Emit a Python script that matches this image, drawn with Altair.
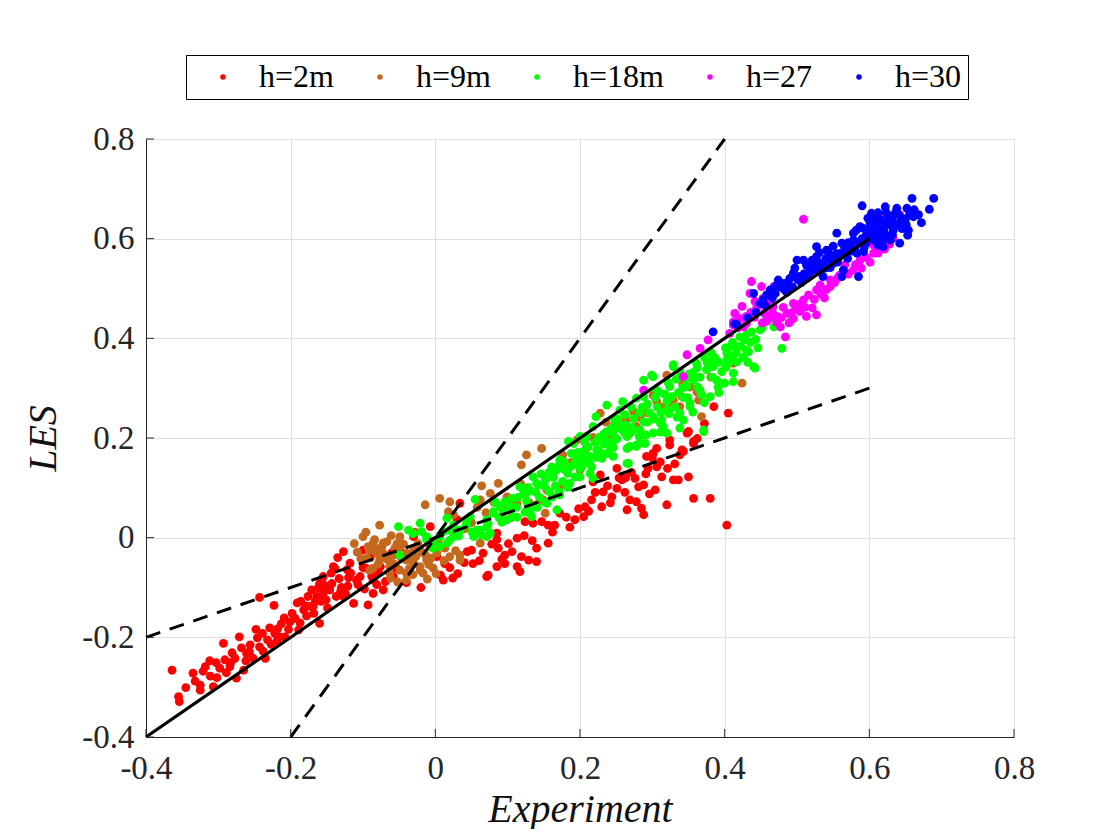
import altair as alt
import pandas as pd

series_names = ["h=2m", "h=9m", "h=18m", "h=27", "h=30"]
series_colors = ["#FF0000", "#C4681E", "#00FF00", "#FF00FF", "#0000FF"]
tick_values = [-0.4, -0.2, 0, 0.2, 0.4, 0.6, 0.8]

h2m = [(-0.364,-0.266),(-0.355,-0.319),(-0.354,-0.329),(-0.335,-0.272),(-0.325,-0.296),(-0.325,-0.306),
       (-0.318,-0.259),(-0.312,-0.247),(-0.311,-0.278),(-0.307,-0.299),(-0.298,-0.262),(-0.293,-0.212),
       (-0.291,-0.245),(-0.284,-0.259),(-0.277,-0.242),(-0.275,-0.282),(-0.271,-0.199),(-0.265,-0.266),
       (-0.261,-0.232),(-0.256,-0.215),(-0.252,-0.242),(-0.248,-0.184),(-0.243,-0.219),(-0.243,-0.120),
       (-0.235,-0.242),(-0.232,-0.205),(-0.223,-0.136),(-0.222,-0.192),(-0.215,-0.199),(-0.208,-0.199),
       (-0.201,-0.169),(-0.194,-0.162),(-0.189,-0.185),(-0.182,-0.145),(-0.176,-0.118),(-0.171,-0.105),
       (-0.169,-0.138),(-0.160,-0.172),(-0.157,-0.085),(-0.155,-0.112),(-0.151,-0.125),(-0.143,-0.092),
       (-0.139,-0.061),(-0.127,-0.028),(-0.141,-0.058),(-0.155,-0.078),(-0.118,-0.051),(-0.100,-0.025),
       (-0.109,-0.085),(-0.146,-0.105),(-0.127,-0.118),(-0.164,-0.118),(-0.113,-0.132),(-0.093,-0.135),
       (-0.086,-0.085),(-0.076,-0.058),(-0.065,-0.041),(-0.072,-0.105),(-0.058,-0.078),(-0.086,-0.112),
       (-0.173,-0.138),(-0.160,-0.092),(-0.049,-0.018),(-0.030,0.002),(0.002,-0.038),(0.011,-0.085),
       (0.007,-0.075),(0.030,0.036),(0.050,-0.025),(0.066,-0.031),(0.071,-0.078),(0.085,-0.058),
       (0.085,-0.004),(0.034,0.069),(-0.007,0.022),(-0.040,-0.090),(-0.020,-0.100),(0.020,-0.060),
       (0.040,-0.050),(-0.060,-0.030),(-0.100,-0.060),(-0.120,-0.080),(-0.130,-0.100),(-0.135,-0.040),
       (-0.090,-0.040),(0.087,-0.021),(0.096,-0.035),(0.106,-0.028),(0.113,-0.001),(0.119,-0.038),
       (0.129,-0.045),(0.140,-0.048),(0.140,-0.021),(0.156,-0.011),(0.113,-0.058),(0.117,-0.068),
       (0.073,-0.075),(0.085,0.009),(0.124,0.032),(0.135,0.029),(0.147,0.032),(0.156,0.025),
       (0.165,0.025),(0.172,0.049),(0.193,0.036),(0.205,0.042),(0.207,0.062),(0.216,0.076),
       (0.230,0.062),(0.232,0.092),(0.244,0.082),(0.242,0.070),(0.251,0.099),(0.258,0.116),
       (0.265,0.056),(0.269,0.076),(0.278,0.072),(0.276,0.119),(0.281,0.102),(0.288,0.106),
       (0.285,0.059),(0.288,0.046),(0.294,0.139),(0.304,0.096),(0.306,0.142),(0.292,0.163),
       (0.301,0.169),(0.320,0.066),(0.329,0.116),(0.336,0.116),(0.341,0.176),(0.350,0.122),
       (0.357,0.079),(0.380,0.079),(0.403,0.025),(0.350,0.213),(0.324,0.186),(0.357,0.189),
       (0.251,0.139),(0.254,0.120),(0.263,0.120),(0.218,0.112),(0.228,0.126),(0.385,0.263),
       (0.405,0.250),(0.348,0.210),(0.357,0.193),(0.343,0.173),(0.306,0.179),(0.300,0.160),
       (0.324,0.196),(-0.283,-0.251),(-0.262,-0.247),(-0.238,-0.228),(-0.219,-0.207),(-0.203,-0.184),
       (-0.187,-0.171),(-0.178,-0.157),(-0.168,-0.152),(-0.158,-0.128),(-0.149,-0.141),(-0.137,-0.118),
       (-0.131,-0.108),(-0.121,-0.097),(-0.107,-0.094),(-0.098,-0.103),(-0.088,-0.077),(-0.079,-0.069),
       (-0.302,-0.281),(-0.213,-0.173),(-0.229,-0.181),(-0.191,-0.131),(-0.122,-0.064),(-0.148,-0.097),
       (0.101,-0.012),(0.123,0.004),(0.181,0.041),(0.212,0.053),(0.262,0.091),(0.291,0.128),
       (0.313,0.122),(0.331,0.148),(0.052,-0.052),(0.031,-0.072),(0.092,-0.043),
       (-0.345,-0.301),(-0.332,-0.288),(-0.321,-0.268),(-0.303,-0.251),(-0.289,-0.271),(-0.281,-0.231),
       (-0.268,-0.221),(-0.257,-0.229),(-0.246,-0.201),(-0.239,-0.192),(-0.227,-0.214),(-0.218,-0.183),
       (-0.209,-0.161),(-0.198,-0.152),(-0.186,-0.128),(-0.179,-0.137),(-0.166,-0.128),(-0.162,-0.101),
       (-0.153,-0.097),(-0.144,-0.071),(-0.133,-0.082),(-0.124,-0.113),(-0.117,-0.071),(-0.104,-0.078),
       (-0.096,-0.061),(-0.081,-0.094),(-0.069,-0.088),(-0.054,-0.061),(0.013,-0.052),(0.024,-0.081),
       (0.044,-0.028),(0.061,-0.046),(0.078,-0.013),(0.096,-0.052),(0.134,-0.006),(0.162,0.011),
       (0.186,0.021),(0.198,0.058),(0.221,0.091),(0.238,0.104),(0.271,0.131),(0.296,0.088),
       (0.311,0.152),(0.321,0.139),(0.338,0.166),(0.362,0.199),(0.372,0.229)]

h9m = [(-0.077,0.025),(-0.014,0.066),(0.006,0.079),(0.020,0.072),(0.064,0.104),(-0.100,0.002),
       (-0.086,-0.011),(-0.091,-0.025),(-0.077,-0.045),(-0.086,-0.061),(-0.058,-0.035),(-0.049,-0.065),
       (-0.040,-0.045),(-0.030,-0.025),(-0.021,-0.058),(-0.012,-0.045),(-0.017,-0.071),(-0.072,-0.011),
       (-0.063,-0.071),(-0.040,-0.071),(-0.003,-0.061),(-0.007,-0.018),(0.020,-0.038),(0.034,-0.045),
       (0.025,0.046),(0.076,0.089),(-0.049,-0.025),(-0.093,-0.018),(-0.081,-0.031),(-0.067,-0.008),
       (-0.049,0.002),(-0.040,-0.031),(-0.030,-0.051),(-0.021,-0.065),(-0.063,-0.058),(-0.091,-0.065),
       (-0.040,-0.085),(0.034,-0.035),(0.062,-0.011),(-0.003,-0.015),(0.087,0.109),(0.126,0.166),
       (0.147,0.179),(0.119,0.146),(0.099,0.082),(0.113,0.069),(0.154,0.096),(0.163,0.122),
       (0.200,0.136),(0.228,0.250),(0.246,0.223),(0.269,0.210),(0.278,0.223),(0.264,0.236),
       (0.274,0.253),(0.301,0.286),(0.306,0.273),(0.320,0.326),(0.329,0.276),(0.368,0.243),
       (0.424,0.310),(0.338,0.263),(0.341,0.283),(0.364,0.276),(0.412,0.350),(0.327,0.270),
       (0.259,0.216),(0.209,0.179),(0.196,0.196),(0.105,0.040),(0.130,0.070),(0.050,0.030),
       (0.070,0.050),(0.062,0.076),(0.094,0.059),(0.103,0.076),(0.149,0.076),(0.172,0.102),
       (0.152,0.049),(0.140,0.066),(-0.103,-0.042),(-0.082,-0.022),(-0.071,-0.033),(-0.058,-0.052),
       (-0.047,-0.041),(-0.036,-0.062),(-0.027,-0.038),(-0.018,-0.029),(-0.009,-0.054),(0.002,-0.031),
       (0.013,-0.021),(-0.053,-0.012),(-0.061,0.004),(-0.079,-0.053),(-0.094,-0.041),(-0.112,-0.012),
       (-0.031,-0.074),(0.001,-0.072),(0.041,0.018),(0.058,0.061),(0.241,0.203),(0.292,0.251),
       (0.313,0.262),(0.342,0.309),(0.362,0.292),
       (-0.108,-0.029),(-0.096,0.011),(-0.084,-0.004),(-0.074,-0.019),(-0.066,-0.044),(-0.056,-0.021),
       (-0.044,-0.013),(-0.034,-0.036),(-0.024,-0.012),(-0.014,-0.034),(-0.006,-0.041),(0.004,-0.008),
       (0.012,-0.046),(0.028,-0.026),(-0.028,0.011),(-0.062,-0.081),(-0.052,-0.089),(-0.011,-0.083),
       (0.018,0.052),(0.081,0.071),(0.118,0.108),(0.176,0.166),(0.188,0.151),(0.218,0.201),
       (0.236,0.232),(0.283,0.241),(0.352,0.302),(0.381,0.322)]

h18m = [(-0.051,0.022),(-0.037,0.015),(-0.021,0.029),(-0.019,0.012),(-0.012,0.002),(-0.005,-0.018),
        (-0.049,-0.035),(0.016,0.039),(0.006,0.002),(0.016,-0.011),(0.025,0.002),(0.034,0.015),
        (0.043,0.025),(0.053,0.002),(0.048,0.042),(0.062,0.015),(0.071,0.036),(0.076,0.009),
        (0.080,0.052),(0.089,0.062),(0.055,0.077),(0.025,0.025),(0.020,-0.005),(-0.003,-0.021),
        (0.006,-0.018),(0.071,0.022),(0.080,0.049),(0.096,0.072),(0.106,0.079),(0.099,0.036),
        (0.108,0.042),(0.117,0.102),(0.124,0.086),(0.133,0.042),(0.135,0.122),(0.142,0.106),
        (0.152,0.116),(0.158,0.092),(0.161,0.142),(0.172,0.086),(0.172,0.149),(0.179,0.136),
        (0.186,0.109),(0.188,0.169),(0.195,0.156),(0.200,0.139),(0.205,0.173),(0.214,0.129),
        (0.214,0.163),(0.218,0.119),(0.223,0.176),(0.230,0.159),(0.239,0.169),(0.235,0.196),
        (0.218,0.223),(0.246,0.210),(0.251,0.220),(0.265,0.179),(0.267,0.149),(0.278,0.186),
        (0.290,0.189),(0.288,0.233),(0.272,0.213),(0.301,0.210),(0.315,0.223),(0.338,0.220),
        (0.371,0.213),(0.343,0.236),(0.154,0.069),(0.088,0.040),(0.168,0.056),(0.133,0.062),
        (0.064,0.005),(0.184,0.193),(0.200,0.203),(0.222,0.243),(0.237,0.266),(0.248,0.236),
        (0.259,0.273),(0.278,0.280),(0.299,0.326),(0.301,0.243),(0.313,0.236),(0.320,0.273),
        (0.329,0.347),(0.338,0.333),(0.348,0.303),(0.352,0.263),(0.357,0.316),(0.361,0.350),
        (0.375,0.337),(0.380,0.283),(0.384,0.357),(0.389,0.316),(0.403,0.370),(0.400,0.310),
        (0.412,0.313),(0.417,0.383),(0.428,0.397),(0.433,0.373),(0.442,0.340),(0.417,0.353),
        (0.371,0.216),(0.320,0.210),(0.283,0.216),(0.265,0.203),(0.278,0.183),(0.237,0.169),
        (0.324,0.303),(0.288,0.316),(0.306,0.296),(0.493,0.437),(0.479,0.380),(0.449,0.417),
        (0.458,0.444),(0.430,0.377),(0.421,0.403),(0.407,0.383),(0.468,0.423),(0.403,0.357),
        (0.384,0.343),(0.437,0.413),(-0.003,-0.011),(0.020,0.015),(0.043,0.029),(0.057,0.015),
        (0.071,0.002),(0.103,0.062),(0.122,0.089),(0.140,0.109),(0.168,0.136),(0.172,0.156),
        (0.191,0.189),(0.209,0.203),(0.255,0.256),(0.228,0.163),(0.246,0.163),(0.265,0.149),
        (0.269,0.183),(0.283,0.189),(0.311,0.230),(0.320,0.256),(0.338,0.250),(0.352,0.270),
        (0.366,0.296),(0.412,0.330),(0.440,0.343),(0.329,0.343),(0.301,0.323),(0.288,0.283),
        (0.200,0.122),(0.112,0.061),(0.126,0.073),(0.131,0.094),(0.144,0.081),(0.151,0.103),
        (0.163,0.121),(0.176,0.113),(0.183,0.129),(0.192,0.147),(0.204,0.158),(0.211,0.182),
        (0.221,0.191),(0.232,0.207),(0.243,0.219),(0.252,0.238),(0.262,0.247),(0.271,0.262),
        (0.283,0.251),(0.293,0.268),(0.304,0.281),(0.309,0.292),(0.322,0.311),(0.333,0.318),
        (0.342,0.301),(0.351,0.328),(0.362,0.341),(0.372,0.362),(0.381,0.372),(0.392,0.352),
        (0.401,0.381),(0.411,0.392),(0.422,0.384),(0.431,0.409),(0.443,0.398),(0.452,0.421),
        (0.402,0.342),(0.383,0.322),(0.363,0.302),(0.343,0.281),(0.331,0.262),(0.312,0.251),
        (0.293,0.232),(0.272,0.221),(0.251,0.198),(0.233,0.188),(0.212,0.151),(0.193,0.122),
        (0.171,0.092),(0.152,0.071),(0.131,0.052),(0.113,0.041),(0.092,0.031),(0.073,0.028),
        (0.051,0.011),(0.032,0.003),(0.011,0.012),(-0.012,-0.004),(-0.031,0.008),(0.261,0.212),
        (0.282,0.203),(0.302,0.238),(0.323,0.249),(0.349,0.281),(0.368,0.287),(0.391,0.302),
        (0.409,0.362),(0.432,0.352),(0.242,0.182),(0.222,0.161),(0.203,0.143),
        (0.083,0.071),(0.094,0.052),(0.114,0.081),(0.128,0.101),(0.139,0.091),(0.146,0.128),
        (0.157,0.131),(0.166,0.104),(0.178,0.152),(0.187,0.142),(0.197,0.171),(0.207,0.191),
        (0.216,0.142),(0.226,0.201),(0.236,0.212),(0.244,0.192),(0.254,0.228),(0.263,0.226),
        (0.274,0.239),(0.286,0.262),(0.296,0.251),(0.307,0.262),(0.317,0.288),(0.327,0.283),
        (0.336,0.291),(0.346,0.319),(0.356,0.331),(0.366,0.322),(0.376,0.351),(0.386,0.362),
        (0.396,0.333),(0.406,0.352),(0.416,0.371),(0.426,0.362),(0.436,0.392),(0.446,0.381),
        (0.456,0.433),(0.466,0.441),(0.372,0.271),(0.392,0.291),(0.356,0.252),(0.334,0.242),
        (0.311,0.212),(0.291,0.206),(0.246,0.181),(0.226,0.174),(0.183,0.101),(0.162,0.082),
        (0.141,0.061),(0.124,0.051)]

h27 = [(0.509,0.639),(0.437,0.514),(0.348,0.367),(0.377,0.397),(0.343,0.323),(0.414,0.450),
       (0.412,0.433),(0.424,0.464),(0.430,0.444),(0.444,0.460),(0.442,0.474),(0.453,0.480),
       (0.467,0.464),(0.472,0.444),(0.477,0.423),(0.486,0.450),(0.495,0.470),(0.504,0.454),
       (0.513,0.444),(0.527,0.447),(0.509,0.477),(0.516,0.487),(0.484,0.403),(0.468,0.504),
       (0.527,0.497),(0.532,0.507),(0.546,0.504),(0.546,0.517),(0.559,0.527),(0.578,0.537),
       (0.589,0.541),(0.566,0.547),(0.606,0.571),(0.587,0.557),(0.619,0.644),(0.642,0.648),
       (0.633,0.601),(0.606,0.587),(0.407,0.410),(0.435,0.490),(0.451,0.504),(0.366,0.380),
       (0.288,0.296),(0.412,0.427),(0.455,0.450),(0.462,0.470),(0.495,0.440),(0.430,0.430),
       (0.420,0.440),(0.461,0.441),(0.472,0.432),(0.481,0.462),(0.492,0.451),(0.503,0.468),
       (0.521,0.461),(0.533,0.489),(0.541,0.498),(0.552,0.512),(0.571,0.529),(0.441,0.442),
       (0.452,0.431),(0.426,0.423),(0.601,0.553),(0.621,0.579),(0.581,0.548),
       (0.458,0.434),(0.478,0.441),(0.489,0.431),(0.498,0.459),(0.511,0.462),(0.524,0.478),
       (0.538,0.481),(0.556,0.521),(0.568,0.532),(0.596,0.562),(0.612,0.571),(0.628,0.589),
       (0.418,0.421),(0.436,0.452),(0.466,0.452)]

h30 = [(0.384,0.413),(0.417,0.427),(0.440,0.490),(0.458,0.487),(0.470,0.504),(0.474,0.517),
       (0.486,0.511),(0.495,0.531),(0.500,0.557),(0.497,0.541),(0.504,0.524),(0.513,0.547),
       (0.518,0.531),(0.527,0.584),(0.532,0.551),(0.541,0.577),(0.546,0.557),(0.555,0.611),
       (0.562,0.591),(0.569,0.577),(0.578,0.597),(0.582,0.617),(0.587,0.624),(0.585,0.524),
       (0.592,0.574),(0.590,0.666),(0.603,0.651),(0.599,0.607),(0.610,0.628),(0.615,0.611),
       (0.622,0.664),(0.624,0.631),(0.629,0.597),(0.633,0.617),(0.638,0.661),(0.642,0.591),
       (0.647,0.634),(0.654,0.617),(0.656,0.651),(0.661,0.644),(0.659,0.681),(0.683,0.659),
       (0.689,0.681),(0.619,0.584),(0.606,0.597),(0.564,0.537),(0.562,0.524),(0.550,0.551),
       (0.527,0.564),(0.509,0.557),(0.536,0.524),(0.483,0.497),(0.453,0.477),(0.449,0.470),
       (0.463,0.497),(0.414,0.429),(0.570,0.560),(0.580,0.580),(0.595,0.590),(0.600,0.620),
       (0.620,0.620),(0.625,0.605),(0.635,0.630),(0.645,0.620),(0.650,0.640),(0.590,0.600),
       (0.575,0.575),(0.555,0.570),(0.540,0.560),(0.520,0.540),(0.510,0.530),(0.490,0.520),
       (0.480,0.510),(0.470,0.490),(0.530,0.535),(0.550,0.585),(0.601,0.632),(0.611,0.603),
       (0.619,0.598),(0.631,0.642),(0.641,0.628),(0.604,0.614),(0.616,0.637),(0.596,0.608),
       (0.586,0.593),(0.574,0.588),(0.566,0.582),(0.558,0.563),(0.544,0.571),(0.536,0.548),
       (0.524,0.552),(0.514,0.521),(0.506,0.512),(0.494,0.503),(0.486,0.492),(0.521,0.557),
       (0.531,0.572),(0.546,0.542),(0.556,0.553),(0.626,0.647),(0.641,0.647),(0.651,0.628),
       (0.662,0.658),(0.653,0.607),(0.612,0.587),(0.632,0.608),
       (0.571,0.592),(0.578,0.611),(0.591,0.621),(0.598,0.641),(0.607,0.642),(0.614,0.621),
       (0.621,0.611),(0.628,0.628),(0.636,0.652),(0.644,0.639),(0.652,0.661),(0.602,0.602),
       (0.593,0.583),(0.583,0.571),(0.561,0.571),(0.551,0.562),(0.539,0.541),(0.526,0.538),
       (0.517,0.542),(0.501,0.518),(0.488,0.501),(0.478,0.503),(0.466,0.481),(0.456,0.466),
       (0.443,0.452),(0.432,0.441),(0.668,0.648),(0.672,0.632),(0.612,0.652),(0.623,0.653)]

solid_line = [(-0.4, -0.4), (0.6, 0.6)]
dashed_steep = [(-0.2, -0.4), (0.4, 0.8)]
dashed_flat = [(-0.4, -0.2), (0.6, 0.3)]

rows = []
k = 0
for name, pts in zip(series_names, [h2m, h9m, h18m, h27, h30]):
    for (x, y) in pts:
        rows.append({"series": name, "idx": k, "x": x, "y": y})
        k += 1
df = pd.DataFrame(rows)

solid_df = pd.DataFrame([{"x": x, "y": y} for x, y in solid_line])
dash_df = pd.DataFrame([{"line": nm, "x": x, "y": y}
                        for nm, pts in [("steep", dashed_steep), ("flat", dashed_flat)]
                        for x, y in pts])
tick_df = pd.DataFrame({"x": tick_values, "y": tick_values})

FONT = "Liberation Serif"
TXT = "#262626"
xs = alt.Scale(domain=[-0.4, 0.8], nice=False, zero=False)
ys = alt.Scale(domain=[-0.4, 0.8], nice=False, zero=False)

x_axis = alt.Axis(values=tick_values, title="Experiment", titleFont=FONT, titleFontStyle="italic",
                  titleFontWeight="normal", titleFontSize=40, titleColor="#111111",
                  titleX=434, titleY=84, titleBaseline="alphabetic", titleAlign="center",
                  labelFont=FONT, labelFontSize=33, labelColor=TXT, labelPadding=15,
                  labelFlush=False, labelOverlap=False, labelExpr="toString(datum.value)",
                  ticks=False, tickSize=0, domainColor=TXT, domainWidth=1,
                  gridColor="#DFDFDF", gridWidth=1)
y_axis = alt.Axis(values=tick_values, title="LES", titleFont=FONT, titleFontStyle="italic",
                  titleFontWeight="normal", titleFontSize=40, titleColor="#111111",
                  titleX=-103, titleY=299, titleAngle=270, titleBaseline="middle", titleAlign="center",
                  labelFont=FONT, labelFontSize=33, labelColor=TXT, labelPadding=12,
                  labelFlush=False, labelOverlap=False, labelExpr="toString(datum.value)",
                  ticks=False, tickSize=0, domainColor=TXT, domainWidth=1,
                  gridColor="#DFDFDF", gridWidth=1)

legend = alt.Legend(title=None, orient="none", legendX=40, legendY=-84, direction="horizontal",
                    labelFont=FONT, labelFontSize=32, labelColor="#000000",
                    symbolType="circle", symbolSize=30, symbolStrokeWidth=0,
                    symbolOffset=15, labelOffset=20, columnPadding=15, padding=6,
                    strokeColor="#000000", fillColor="#FFFFFF")

points = alt.Chart(df).mark_circle(size=78, opacity=1).encode(
    x=alt.X("x:Q", scale=xs, axis=x_axis),
    y=alt.Y("y:Q", scale=ys, axis=y_axis),
    color=alt.Color("series:N", scale=alt.Scale(domain=series_names, range=series_colors), legend=legend),
    order=alt.Order("idx:Q"),
)

solid = alt.Chart(solid_df).mark_line(color="black", strokeWidth=3.2).encode(
    x=alt.X("x:Q", scale=xs, axis=x_axis),
    y=alt.Y("y:Q", scale=ys, axis=y_axis),
)

dashed = alt.Chart(dash_df).mark_line(color="black", strokeWidth=3, strokeDash=[15, 10]).encode(
    x=alt.X("x:Q", scale=xs, axis=x_axis),
    y=alt.Y("y:Q", scale=ys, axis=y_axis),
    detail="line:N",
)

xticks = alt.Chart(tick_df).mark_rule(color=TXT, strokeWidth=1).encode(
    x=alt.X("x:Q", scale=xs, axis=x_axis),
    y=alt.value(598), y2=alt.value(590),
)
yticks = alt.Chart(tick_df).mark_rule(color=TXT, strokeWidth=1).encode(
    y=alt.Y("y:Q", scale=ys, axis=y_axis),
    x=alt.value(0), x2=alt.value(8),
)

chart = alt.layer(points, dashed, solid, xticks, yticks).properties(
    width=868, height=598,
    autosize=alt.AutoSizeParams(type="none"),
    padding={"left": 138, "top": 131, "right": 90, "bottom": 92},
    background="white",
).configure_view(strokeWidth=0).configure_axis(labelFont=FONT, titleFont=FONT)

chart.save("out.html", embed_options={"renderer": "svg", "actions": False})
